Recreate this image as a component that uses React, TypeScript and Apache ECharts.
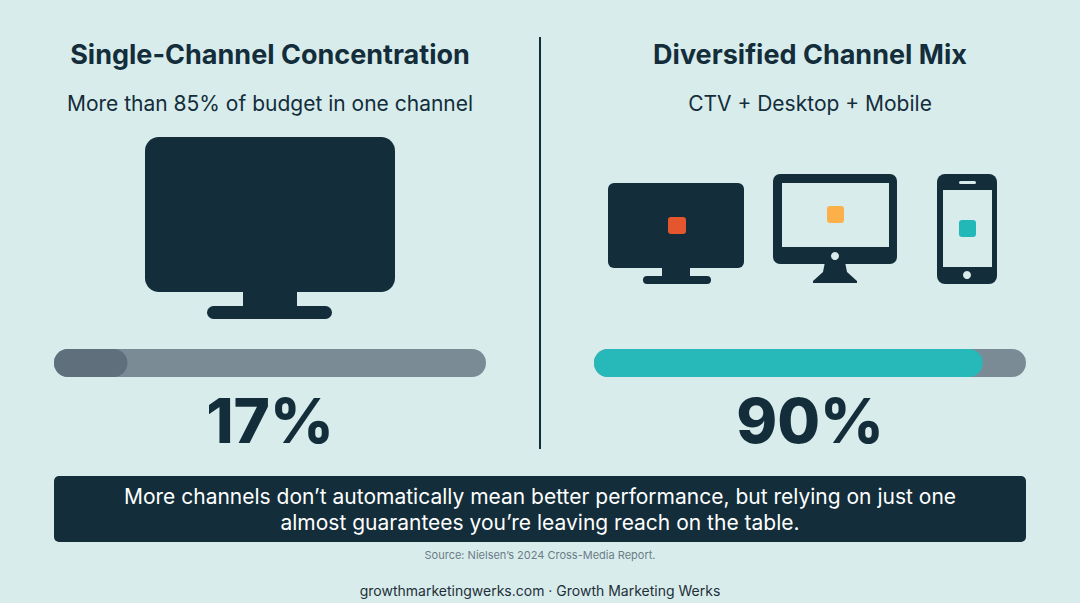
import React, { useEffect, useRef } from "react";
import * as echarts from "echarts";

const panelTitles = ["Single-Channel Concentration", "Diversified Channel Mix"];
const panelSubtitles = ["More than 85% of budget in one channel", "CTV + Desktop + Mobile"];
const reachValues = [17, 90];
const barColors = ["#5f6f7b", "#27b9ba"];
const takeaway = [
    "More channels don\u2019t automatically mean better performance, but relying on just one",
    "almost guarantees you\u2019re leaving reach on the table.",
];
const sourceNote = "Source: Nielsen\u2019s 2024 Cross-Media Report.";
const footer = "growthmarketingwerks.com \u00b7 Growth Marketing Werks";

const BG = "#d8ecec";
const DARK = "#132d3a";
const FONT = "Inter, 'Noto Sans', sans-serif";

export default function App() {
    const chartRef = useRef<HTMLDivElement>(null);

    useEffect(() => {
        if (!chartRef.current) return;
        const chart = echarts.init(chartRef.current, null, { renderer: "svg" });

        const centers = [270, 810];
        const text = (x: number, y: number, t: string, size: number, weight: any, color = DARK) => ({
            type: "text",
            x,
            y,
            style: {
                text: t,
                fontSize: size,
                fontWeight: weight,
                fontFamily: FONT,
                fill: color,
                align: "center",
                verticalAlign: "middle",
            },
        });
        const rect = (x: number, y: number, w: number, h: number, r: number, fill: string) => ({
            type: "rect",
            shape: { x, y, width: w, height: h, r },
            style: { fill },
        });

        const graphics: any[] = [
            // divider
            { type: "line", shape: { x1: 540, y1: 37, x2: 540, y2: 449 }, style: { stroke: DARK, lineWidth: 2 } },
            // left big TV
            rect(145, 137, 250, 155, 14, DARK),
            rect(243, 288, 54, 20, 0, DARK),
            rect(207, 306, 125, 13, 6.5, DARK),
            // right TV
            rect(608, 183, 136, 85, 6, DARK),
            rect(668, 217, 18, 17, 3, "#e4572e"),
            rect(662, 266, 28, 11, 0, DARK),
            rect(643, 276, 68, 8, 4, DARK),
            // desktop monitor
            rect(773, 174, 124, 90, 7, DARK),
            rect(782, 183, 107, 64, 0, BG),
            { type: "circle", shape: { cx: 835, cy: 256, r: 4 }, style: { fill: BG } },
            {
                type: "polygon",
                shape: { points: [[825, 262], [845, 262], [847, 272], [857, 281], [857, 283], [813, 283], [813, 281], [823, 272]] },
                style: { fill: DARK },
            },
            rect(827, 206, 17, 17, 3, "#fbb04a"),
            // phone
            rect(937, 174, 60, 110, 8, DARK),
            rect(943, 190, 49, 77, 0, BG),
            rect(959, 181, 17, 3, 1.5, BG),
            { type: "circle", shape: { cx: 967, cy: 275, r: 4 }, style: { fill: BG } },
            rect(959, 220, 17, 17, 3, "#22b8b8"),
            // takeaway box
            rect(54, 476, 972, 66, 5, DARK),
            text(540, 496, takeaway[0], 21, 400, "#ffffff"),
            text(540, 522, takeaway[1], 21, 400, "#ffffff"),
            text(540, 555, sourceNote, 11, 400, "#6b7c86"),
            text(540, 590, footer, 14, 400, "#1e2f38"),
        ];
        centers.forEach((cx, i) => {
            graphics.push(text(cx, 54, panelTitles[i], 27, 700));
            graphics.push(text(cx, 103, panelSubtitles[i], 21, 400));
            graphics.push(text(cx, 420, `${reachValues[i]}%`, 62, 800));
        });

        const option: echarts.EChartsOption = {
            animation: false,
            backgroundColor: BG,
            grid: [
                { left: 54, top: 349, width: 432, height: 28 },
                { left: 594, top: 349, width: 432, height: 28 },
            ],
            xAxis: [0, 1].map((i) => ({
                type: "value",
                gridIndex: i,
                min: 0,
                max: 100,
                show: false,
            })) as any,
            yAxis: [0, 1].map((i) => ({
                type: "category",
                gridIndex: i,
                data: [panelTitles[i]],
                show: false,
            })) as any,
            series: reachValues.map((v, i) => ({
                type: "bar",
                xAxisIndex: i,
                yAxisIndex: i,
                data: [v],
                barWidth: 28,
                showBackground: true,
                backgroundStyle: { color: "#7a8b96", borderRadius: 14 },
                itemStyle: { color: barColors[i], borderRadius: 14 },
                silent: true,
            })) as any,
            graphic: graphics,
        };

        chart.setOption(option);
        return () => chart.dispose();
    }, []);

    return (
        <div
            ref={chartRef}
            style={{ position: "fixed", left: 0, top: 0, width: "1080px", height: "603px" }}
        />
    );
}
